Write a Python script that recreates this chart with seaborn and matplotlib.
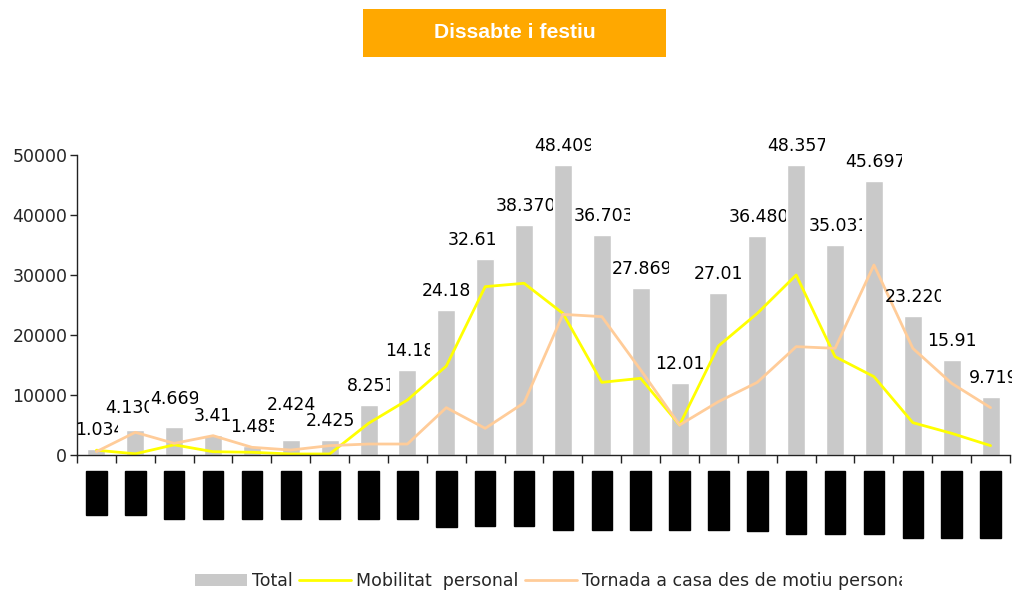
import numpy as np
import pandas as pd
import seaborn as sns
import matplotlib
matplotlib.use("Agg")
import matplotlib.pyplot as plt
from matplotlib.patches import Rectangle, Patch
from matplotlib.lines import Line2D
from matplotlib.transforms import Bbox

# franges horaries (etiquetes de l'eix x, a l'original surten com a blocs negres)
franja = ["00-01", "01-02", "2 - 3 h", "3 - 4 h", "4 - 5 h", "5 - 6 h",
          "6 - 7 h", "7 - 8 h", "8 - 9 h", "9 - 10 h", "10-11 h", "11-12 h",
          "12 - 13h", "13 - 14h", "14 - 15h", "15 - 16h", "16 - 17h", "17 - 18h",
          "18 - 19 h", "19 - 20 h", "20 - 21 h", "21h - 22h", "22h - 23h", "23h - 24h"]

total = [1034, 4130, 4669, 3411, 1485, 2424, 2425, 8251, 14181, 24181, 32611, 38370,
         48409, 36703, 27869, 12013, 27011, 36480, 48357, 35031, 45697, 23220, 15913, 9719]

mobilitat = [800, 200, 1700, 550, 450, 170, 170, 5280, 9170, 14830, 28060, 28620,
             23600, 12110, 12780, 5000, 18170, 23610, 30000, 16390, 13060, 5390, 3610, 1560]

tornada = [560, 3780, 1940, 3220, 1280, 830, 1560, 1830, 1830, 7890, 4440, 8700,
           23440, 23060, 14170, 5000, 8890, 12110, 18060, 17780, 31670, 17780, 11940, 7890]

y_ticks = [0, 10000, 20000, 30000, 40000, 50000]

noms = ["Total", "Mobilitat  personal", "Tornada a casa des de motiu personal"]
titol = "Dissabte i festiu"

GRIS = "#C9C9C9"
GROC = "#FFFF00"
PRESSEC = "#FFCC99"
TARONJA = "#FFA800"

sns.set_style("white")
plt.rcParams["font.family"] = ["DejaVu Sans"]

df = pd.DataFrame({"franja": franja, "total": total,
                   "mobilitat": mobilitat, "tornada": tornada})
pos = np.arange(len(df))

fig = plt.figure(figsize=(10.2, 5.92), dpi=100)
ax = fig.add_axes([77 / 1020, 1 - 455 / 592, 933 / 1020, 300 / 592])

sns.barplot(data=df, x="franja", y="total", color=GRIS, width=0.46,
            saturation=1, ax=ax)
sns.lineplot(x=pos, y=df["mobilitat"], color=GROC, linewidth=2, ax=ax)
sns.lineplot(x=pos, y=df["tornada"], color=PRESSEC, linewidth=2, ax=ax)

ax.set_xlim(-0.5, len(df) - 0.5)
ax.set_ylim(0, 50000)
ax.set_yticks(y_ticks)
ax.set_yticklabels([str(t) for t in y_ticks])
ax.set_xlabel("")
ax.set_ylabel("")

for s in ["top", "right"]:
    ax.spines[s].set_visible(False)
for s in ["left", "bottom"]:
    ax.spines[s].set_color("#222222")
    ax.spines[s].set_linewidth(1)

ax.tick_params(axis="y", length=5, width=1, color="#222222", pad=2,
               labelsize=12.5, left=True)
ax.set_xticks(pos)
ax.set_xticklabels(df["franja"])
ax.set_xticks(np.arange(-0.5, len(df), 1), minor=True)
ax.tick_params(axis="x", which="major", length=0, pad=14.2, labelsize=9,
               labelrotation=90, labelcolor="black")
ax.tick_params(axis="x", which="minor", length=6, width=1, color="#222222",
               bottom=True)
for lbl in ax.get_xticklabels():
    lbl.set_bbox(dict(boxstyle="square,pad=0.3", fc="black", ec="black"))

# etiquetes de dades: caixa massa estreta, el text queda retallat
nudge = {1: (-8, 3), 2: (0, 9), 5: (0, 16), 10: (-13, 0)}
for i, v in enumerate(df["total"]):
    txt = f"{v:,}".replace(",", ".")
    w = 9.5 * len(txt) - 4 * txt.count("1")
    dx, dy = nudge.get(i, (0, 0))
    t = ax.annotate(txt, xy=(i, v), xytext=(-w / 2 + dx, 19 + dy),
                    textcoords="offset pixels", ha="left", va="center",
                    fontsize=12.5, color="black", annotation_clip=False)
    xc = ax.transData.transform((i, 0))[0]
    x0 = max(xc - w / 2 + dx, ax.bbox.x0)
    x1 = xc + w / 2 + dx
    t.set_clip_box(Bbox.from_extents(x0, 0, x1, fig.bbox.height))
    t.set_clip_on(True)

# capcalera
fig.patches.append(Rectangle((363 / 1020, 1 - 57 / 592), 303 / 1020, 48 / 592,
                             transform=fig.transFigure, figure=fig,
                             fc=TARONJA, ec="none"))
fig.text(514.5 / 1020, 1 - 33 / 592, titol, ha="center", va="center",
         color="white", fontsize=15.2, fontweight="bold",
         family="Liberation Sans")

handles = [Patch(fc=GRIS, ec="none"),
           Line2D([], [], color=GROC, lw=2),
           Line2D([], [], color=PRESSEC, lw=2)]
leg = fig.legend(handles, noms, loc="center left",
                 bbox_to_anchor=(195 / 1020, 11 / 592), ncol=3, frameon=False,
                 fontsize=12.5, handlelength=3.0, handletextpad=0.29,
                 columnspacing=0.35, borderpad=0, borderaxespad=0)
clip = Bbox.from_extents(0, 0, 902, fig.bbox.height)
for t in leg.get_texts():
    t.set_clip_box(clip)
    t.set_clip_on(True)

fig.savefig("out.png", dpi=100)
